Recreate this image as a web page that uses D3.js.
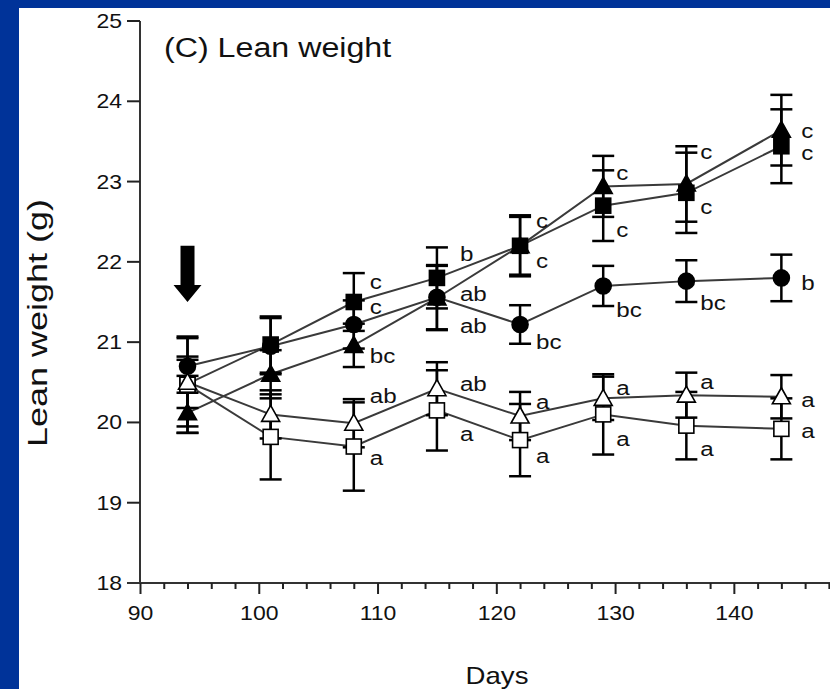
<!DOCTYPE html>
<html><head><meta charset="utf-8">
<script src="https://cdn.jsdelivr.net/npm/d3@7"></script>
<style>html,body{margin:0;padding:0;background:#003399;overflow:hidden}</style>
</head><body><svg id="c" width="830" height="689"></svg>
<script>
// ---------- data ----------
const days = [94, 101, 108, 115, 122, 129, 136, 144];
const xTicks = [90, 100, 110, 120, 130, 140];
const yTicks = [18, 19, 20, 21, 22, 23, 24, 25];

const filledTriangle    = [20.12, 20.60, 20.96, 21.55, 22.20, 22.94, 22.97, 23.64];
const filledTriangleErr = [0.25, 0.30, 0.27, 0.40, 0.38, 0.38, 0.47, 0.44];
const filledSquare      = [20.48, 20.97, 21.50, 21.80, 22.20, 22.70, 22.86, 23.44];
const filledSquareErr   = [0.30, 0.35, 0.36, 0.38, 0.36, 0.44, 0.50, 0.46];
const filledCircle      = [20.70, 20.95, 21.22, 21.56, 21.22, 21.70, 21.76, 21.80];
const filledCircleErr   = [0.12, 0.35, 0.30, 0.40, 0.24, 0.25, 0.26, 0.29];
const openTriangle      = [20.50, 20.10, 19.99, 20.42, 20.08, 20.30, 20.34, 20.32];
const openTriangleErr   = [0.55, 0.30, 0.30, 0.33, 0.30, 0.27, 0.28, 0.27];
const openSquare        = [20.47, 19.82, 19.70, 20.15, 19.78, 20.10, 19.96, 19.92];
const openSquareErr     = [0.60, 0.53, 0.55, 0.50, 0.45, 0.50, 0.42, 0.38];

const filledTriangleLetters = [null, null, "bc", "ab", "c", "c", "c", "c"];
const filledSquareLetters   = [null, null, "c", "b", "c", "c", "c", "c"];
const filledCircleLetters   = [null, null, "c", "ab", "bc", "bc", "bc", "b"];
const openTriangleLetters   = [null, null, "ab", "ab", "a", "a", "a", "a"];
const openSquareLetters     = [null, null, "a", "a", "a", "a", "a", "a"];

const arrowDay = 94, arrowFrom = 22.2, arrowTo = 21.5;
const title = "(C) Lean weight", xTitle = "Days", yTitle = "Lean weight (g)";

// ---------- layout (pixel offsets for the letters) ----------
const letterDx = [0, 0, 16, 23, 16, 13, 14, 20];
const letterDy = {
  fTri: [0, 0, 10, 28, -25, -14, -32, 0],
  fSq:  [0, 0, -20, -24, 15, 24, 14, 6],
  circ: [0, 0, -18, -4, 17, 24, 22, 5],
  oTri: [0, 0, -28, -5, -14, -11, -13, 3],
  oSq:  [0, 0, 11, 23, 16, 24, 23, 2]
};

const W = 830, H = 689, SX = 1.15;
const FONT = "'Liberation Sans', Arial, Helvetica, sans-serif";
const svg = d3.select('#c');
svg.append('rect').attr('x', 19).attr('y', 8).attr('width', W - 19).attr('height', H - 8).attr('fill', '#fff');

const x = d3.scaleLinear().domain([90, 148.6]).range([140, 836]);
const y = d3.scaleLinear().domain([18, 25]).range([583, 21]);

function txt(g, str, tx, ty, size, anchor, rot) {
  return g.append('text').text(str)
    .attr('transform', `translate(${tx},${ty})` + (rot ? ` rotate(${rot})` : '') + ` scale(${SX},1)`)
    .attr('text-anchor', anchor || 'start')
    .attr('font-family', FONT).attr('font-size', size).attr('fill', '#111');
}

// ---------- axes ----------
const yAxis = svg.append('g').attr('transform', `translate(${x(90)},0)`)
  .call(d3.axisLeft(y).tickValues(yTicks).tickSize(13).tickFormat(d3.format('d')));
yAxis.selectAll('text').each(function(d) {
  d3.select(this).attr('x', null).attr('dy', '0.35em')
    .attr('transform', `translate(-18,${y(d)}) scale(${SX},1)`)
    .attr('font-family', FONT).attr('font-size', 20).attr('fill', '#111');
});
yAxis.selectAll('.tick').attr('transform', null);
yAxis.selectAll('.tick line').attr('transform', d => `translate(0,${y(d)})`);

const minorX = d3.range(90, 148.1, 2).filter(d => d % 10 !== 0);
const xAxisG = svg.append('g').attr('transform', `translate(0,${y(18)})`);
xAxisG.call(d3.axisBottom(x).tickValues(minorX).tickSize(6).tickFormat(''));
const xMajor = svg.append('g').attr('transform', `translate(0,${y(18)})`)
  .call(d3.axisBottom(x).tickValues(xTicks).tickSize(11).tickFormat(d3.format('d')));
xMajor.select('.domain').remove();
xMajor.selectAll('text').each(function(d) {
  d3.select(this).attr('y', null).attr('dy', null)
    .attr('transform', `translate(0,37) scale(${SX},1)`)
    .attr('font-family', FONT).attr('font-size', 20).attr('fill', '#111');
});
svg.selectAll('.domain').attr('stroke', '#333').attr('stroke-width', 2);
svg.selectAll('.tick line').attr('stroke', '#222').attr('stroke-width', 2);
xAxisG.select('.domain').attr('d', `M${x(90) - 13},0H${W + 10}`);
yAxis.select('.domain').attr('d', `M0,${y(25)}V${y(18)}`).attr('transform', null);

// ---------- titles ----------
txt(svg, title, 164, 57, 28, 'start');
txt(svg, xTitle, 497, 684, 24, 'middle');
svg.append('text').text(yTitle)
  .attr('transform', 'translate(47,323) rotate(-90)')
  .attr('text-anchor', 'middle').attr('font-family', FONT).attr('font-size', 27)
  .attr('textLength', 248).attr('lengthAdjust', 'spacingAndGlyphs').attr('fill', '#111');

// ---------- arrow ----------
const ax = x(arrowDay), ay0 = y(arrowFrom), ay1 = y(arrowTo);
svg.append('path')
  .attr('d', `M${ax - 7},${ay0}H${ax + 7}V${ay1 - 17}H${ax + 14}L${ax},${ay1}L${ax - 14},${ay1 - 17}H${ax - 7}Z`)
  .attr('fill', '#000');

// ---------- series ----------
const series = [
  { key: 'circ', vals: filledCircle, err: filledCircleErr, letters: filledCircleLetters, shape: 'circle', fill: '#000' },
  { key: 'fTri', vals: filledTriangle, err: filledTriangleErr, letters: filledTriangleLetters, shape: 'tri', fill: '#000' },
  { key: 'fSq', vals: filledSquare, err: filledSquareErr, letters: filledSquareLetters, shape: 'sq', fill: '#000' },
  { key: 'oSq', vals: openSquare, err: openSquareErr, letters: openSquareLetters, shape: 'sq', fill: '#fff' },
  { key: 'oTri', vals: openTriangle, err: openTriangleErr, letters: openTriangleLetters, shape: 'tri', fill: '#fff' }
];

const line = d3.line().x((d, i) => x(days[i])).y(d => y(d));
const gLines = svg.append('g'), gErr = svg.append('g'), gMark = svg.append('g'), gLab = svg.append('g');

series.forEach(s => {
  gLines.append('path').attr('d', line(s.vals)).attr('fill', 'none')
    .attr('stroke', '#3a3a3a').attr('stroke-width', 2);
  s.vals.forEach((v, i) => {
    const px = x(days[i]), top = y(v + s.err[i]), bot = y(v - s.err[i]);
    gErr.append('line').attr('x1', px).attr('x2', px).attr('y1', top).attr('y2', bot)
      .attr('stroke', '#000').attr('stroke-width', 2.5);
    [top, bot].forEach(cy => gErr.append('line').attr('x1', px - 11).attr('x2', px + 11)
      .attr('y1', cy).attr('y2', cy).attr('stroke', '#000').attr('stroke-width', 2.5));
  });
});

series.forEach(s => {
  s.vals.forEach((v, i) => {
    const px = x(days[i]), py = y(v);
    let m;
    if (s.shape === 'circle') m = gMark.append('circle').attr('cx', px).attr('cy', py).attr('r', 8);
    else if (s.shape === 'sq') m = gMark.append('rect').attr('x', px - 7.5).attr('y', py - 7.5).attr('width', 15).attr('height', 15);
    else m = gMark.append('path').attr('d', `M${px},${py - 9}L${px + 9},${py + 7}L${px - 9},${py + 7}Z`);
    m.attr('fill', s.fill).attr('stroke', '#000').attr('stroke-width', 1.6);
    if (s.letters[i]) {
      txt(gLab, s.letters[i], px + letterDx[i], py + letterDy[s.key][i], 21, 'start').attr('dy', '0.35em');
    }
  });
});
</script></body></html>
